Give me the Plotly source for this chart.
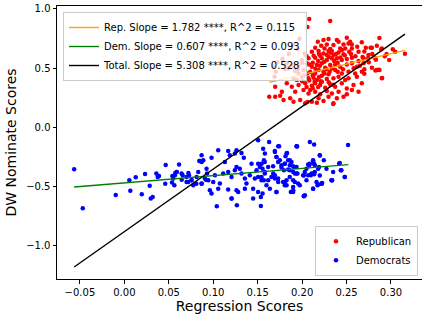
import plotly.graph_objects as go

# ---------------- data ----------------
rep_points = [
    (0.2080, 0.915), (0.2316, 0.898), (0.206, 0.847), (0.197, 0.749), (0.190, 0.700),
    (0.195, 0.660), (0.185, 0.620), (0.178, 0.580), (0.172, 0.550),
    (0.2241, 0.738), (0.2297, 0.746), (0.2177, 0.724), (0.2410, 0.724), (0.2503, 0.757),
    (0.2541, 0.724), (0.2672, 0.718), (0.2391, 0.738),
    (0.2215, 0.690), (0.2278, 0.701), (0.2353, 0.695), (0.2466, 0.701), (0.2522, 0.709),
    (0.2485, 0.667), (0.2560, 0.667), (0.2717, 0.673), (0.2785, 0.673), (0.2841, 0.690),
    (0.2897, 0.667), (0.2428, 0.667), (0.2316, 0.662), (0.2252, 0.667), (0.2147, 0.673),
    (0.2110, 0.639), (0.2185, 0.645), (0.2241, 0.625), (0.2297, 0.645), (0.2353, 0.611),
    (0.2410, 0.633), (0.2466, 0.617), (0.2530, 0.639), (0.2278, 0.611), (0.2203, 0.605),
    (0.2335, 0.645), (0.2447, 0.653), (0.2635, 0.639), (0.2747, 0.611), (0.3047, 0.639),
    (0.3157, 0.622), (0.2027, 0.625), (0.302, 0.659), (0.287, 0.754), (0.268, 0.594),
    (0.277, 0.673), (0.289, 0.659), (0.283, 0.572), (0.286, 0.487), (0.290, 0.416),
    (0.2825, 0.481), (0.270, 0.453),
    (0.2072, 0.583), (0.2147, 0.588), (0.2222, 0.583), (0.2278, 0.569), (0.2335, 0.583),
    (0.2391, 0.583), (0.2447, 0.569), (0.2503, 0.577), (0.2560, 0.588), (0.2635, 0.560),
    (0.2691, 0.583), (0.2740, 0.583), (0.2822, 0.583), (0.1997, 0.569),
    (0.1678, 0.512), (0.1828, 0.541), (0.1960, 0.526), (0.2053, 0.541), (0.2110, 0.512),
    (0.2166, 0.526), (0.2222, 0.541), (0.2260, 0.504), (0.2316, 0.526), (0.2372, 0.532),
    (0.2428, 0.512), (0.2503, 0.532), (0.2560, 0.541), (0.2616, 0.512), (0.2691, 0.541),
    (0.2841, 0.484), (0.2871, 0.484), (0.2785, 0.504),
    (0.1705, 0.470), (0.1810, 0.493), (0.1847, 0.498), (0.1922, 0.476), (0.2016, 0.484),
    (0.2091, 0.470), (0.2147, 0.456), (0.2185, 0.484), (0.2241, 0.470), (0.2297, 0.448),
    (0.2372, 0.484), (0.2447, 0.456), (0.2522, 0.470), (0.2597, 0.456), (0.2672, 0.470),
    (0.2335, 0.498),
    (0.1690, 0.428), (0.1903, 0.414), (0.1941, 0.400), (0.1997, 0.428), (0.2072, 0.414),
    (0.2128, 0.420), (0.2166, 0.400), (0.2222, 0.436), (0.2278, 0.408), (0.2353, 0.414),
    (0.2410, 0.428), (0.2522, 0.414), (0.2616, 0.428), (0.2897, 0.414), (0.2485, 0.400),
    (0.1697, 0.343), (0.1828, 0.372), (0.1884, 0.343), (0.1960, 0.358), (0.2035, 0.372),
    (0.2110, 0.352), (0.2147, 0.372), (0.2203, 0.358), (0.2260, 0.335), (0.2316, 0.363),
    (0.2372, 0.343), (0.2447, 0.372), (0.2503, 0.329), (0.2578, 0.358), (0.2672, 0.372),
    (0.2222, 0.386),
    (0.1772, 0.301), (0.1922, 0.301), (0.2016, 0.315), (0.2072, 0.287), (0.2147, 0.301),
    (0.2203, 0.279), (0.2278, 0.307), (0.2335, 0.287), (0.2410, 0.301), (0.2503, 0.279),
    (0.2560, 0.315), (0.2635, 0.301), (0.2091, 0.315),
    (0.1630, 0.259), (0.1697, 0.259), (0.1753, 0.267), (0.1791, 0.231), (0.1866, 0.245),
    (0.1903, 0.217), (0.1978, 0.231), (0.2035, 0.203), (0.2110, 0.217), (0.2185, 0.245),
    (0.2241, 0.222), (0.2297, 0.259), (0.2391, 0.245), (0.2466, 0.259), (0.2353, 0.203),
    (0.2166, 0.208), (0.235, 0.197), (0.206, 0.214),
    (0.2120, 0.545), (0.2180, 0.560), (0.2250, 0.555), (0.2300, 0.595), (0.2360, 0.560),
    (0.2200, 0.520), (0.2270, 0.490), (0.2150, 0.495), (0.2080, 0.530), (0.2400, 0.545),
    (0.2430, 0.590), (0.2380, 0.620), (0.2320, 0.630), (0.2190, 0.620), (0.2130, 0.605),
    (0.2050, 0.600), (0.2000, 0.545), (0.2060, 0.455), (0.2120, 0.440), (0.2190, 0.425),
    (0.2250, 0.455), (0.2310, 0.470), (0.2400, 0.470), (0.2460, 0.490), (0.2210, 0.390),
    (0.2140, 0.385), (0.2080, 0.395), (0.2020, 0.440), (0.1960, 0.455), (0.2300, 0.380),
    (0.2350, 0.360), (0.2180, 0.340), (0.2050, 0.340), (0.2120, 0.330), (0.2000, 0.390),
    (0.1950, 0.490), (0.1890, 0.520), (0.2550, 0.620), (0.2600, 0.600), (0.2480, 0.610),
    (0.2580, 0.500), (0.2650, 0.520), (0.2700, 0.490), (0.2750, 0.550), (0.2950, 0.620),
    (0.2980, 0.570), (0.2930, 0.600), (0.2790, 0.620), (0.2700, 0.640), (0.2620, 0.680),
    (0.2560, 0.700),
]

dem_points = [
    (-0.0565, -0.355), (-0.0468, -0.684), (-0.0097, -0.572), (0.0056, -0.448), (0.0067, -0.535),
    (0.0128, -0.422), (0.0196, -0.566), (0.0233, -0.394), (0.0285, -0.493), (0.0297, -0.602),
    (0.0319, -0.588), (0.036, -0.391), (0.0375, -0.420), (0.039, -0.411), (0.046, -0.476),
    (0.0465, -0.318), (0.054, -0.411), (0.0536, -0.467), (0.0562, -0.490), (0.0573, -0.386),
    (0.0589, -0.377), (0.0615, -0.313),
    (0.0843, -0.285), (0.087, -0.293), (0.070, -0.462), (0.0757, -0.448), (0.081, -0.476),
    (0.087, -0.476), (0.0918, -0.442), (0.093, -0.391), (0.072, -0.386), (0.0727, -0.405),
    (0.0656, -0.405), (0.0645, -0.442),
    (0.1505, -0.109), (0.1629, -0.124), (0.1741, -0.160), (0.1831, -0.216), (0.1813, -0.245),
    (0.1940, -0.160), (0.1693, -0.200), (0.1711, -0.250), (0.0869, -0.236), (0.0850, -0.284),
    (0.0888, -0.278), (0.0981, -0.256), (0.1056, -0.194), (0.1168, -0.200), (0.1187, -0.236),
    (0.1262, -0.194), (0.1243, -0.222), (0.1318, -0.216), (0.1344, -0.256), (0.1131, -0.292),
    (0.1262, -0.335), (0.1299, -0.349), (0.1431, -0.307), (0.1505, -0.307), (0.1524, -0.335),
    (0.1580, -0.292), (0.1487, -0.363), (0.1618, -0.335), (0.1674, -0.329), (0.1730, -0.292),
    (0.1768, -0.340), (0.1805, -0.307), (0.1861, -0.363), (0.1899, -0.329), (0.1947, -0.391),
    (0.0588, -0.377), (0.0569, -0.405), (0.0644, -0.391), (0.0550, -0.433), (0.0700, -0.419),
    (0.0719, -0.461), (0.0756, -0.447), (0.0813, -0.419), (0.0831, -0.377), (0.0906, -0.433),
    (0.0925, -0.349), (0.0944, -0.447), (0.1019, -0.405), (0.1075, -0.475), (0.1000, -0.461),
    (0.1112, -0.391), (0.1168, -0.377), (0.1206, -0.419), (0.1243, -0.363), (0.1318, -0.391),
    (0.1356, -0.433), (0.1374, -0.475), (0.1412, -0.405), (0.1468, -0.433), (0.1505, -0.419),
    (0.1543, -0.447), (0.1580, -0.391), (0.1618, -0.447), (0.1655, -0.419), (0.1693, -0.405),
    (0.1730, -0.433), (0.1786, -0.461), (0.1824, -0.447), (0.1861, -0.419), (0.1899, -0.447),
    (0.1955, -0.475),
    (0.0775, -0.489), (0.0869, -0.475), (0.0962, -0.532), (0.0981, -0.560), (0.1056, -0.518),
    (0.1168, -0.526), (0.1262, -0.532), (0.1281, -0.546), (0.1356, -0.518), (0.1449, -0.518),
    (0.1505, -0.546), (0.1599, -0.489), (0.1637, -0.518), (0.1711, -0.546), (0.1805, -0.489),
    (0.1899, -0.504), (0.1206, -0.602), (0.1449, -0.602), (0.1266, -0.659), (0.1536, -0.664),
    (0.104, -0.667), (0.1536, -0.589), (0.202, -0.580), (0.1207, -0.602),
    (0.2087, -0.124), (0.2135, -0.144), (0.2517, -0.149), (0.2199, -0.237), (0.2244, -0.279),
    (0.2124, -0.285), (0.2068, -0.313), (0.2143, -0.321), (0.2424, -0.301), (0.2442, -0.363),
    (0.2480, -0.420), (0.2338, -0.448), (0.2225, -0.470), (0.2180, -0.482), (0.2124, -0.518),
    (0.2019, -0.583), (0.1899, -0.546), (0.1937, -0.335), (0.1944, -0.161), (0.1843, -0.279),
    (0.1862, -0.321), (0.1937, -0.391), (0.2019, -0.406), (0.1918, -0.462), (0.1974, -0.490),
    (0.2049, -0.448), (0.2030, -0.377), (0.2124, -0.391), (0.2199, -0.406), (0.2274, -0.349),
    (0.2349, -0.377), (0.2049, -0.349),
    (0.1562, -0.180), (0.1581, -0.222), (0.1570, -0.279), (0.1544, -0.307), (0.1555, -0.349),
    (0.1581, -0.377), (0.1544, -0.419), (0.1570, -0.448), (0.1555, -0.560),
    (0.1694, -0.208), (0.1731, -0.160), (0.1712, -0.250), (0.1750, -0.279), (0.1825, -0.222),
    (0.1862, -0.279), (0.1881, -0.293), (0.1806, -0.307), (0.1768, -0.321), (0.1795, -0.363),
    (0.1843, -0.357), (0.1900, -0.377), (0.1918, -0.391), (0.1675, -0.391), (0.1694, -0.433),
    (0.1731, -0.462), (0.1806, -0.462), (0.1825, -0.490), (0.1712, -0.546), (0.1900, -0.532),
    (0.1937, -0.160), (0.2012, -0.405), (0.2068, -0.405), (0.2105, -0.391), (0.2143, -0.377),
    (0.2180, -0.349), (0.2199, -0.236), (0.2124, -0.279), (0.2135, -0.307), (0.2087, -0.307),
    (0.2218, -0.476), (0.2162, -0.462), (0.2124, -0.518), (0.2330, -0.448), (0.2031, -0.574),
    (0.2416, -0.307), (0.2480, -0.420), (0.2435, -0.363), (0.2334, -0.448), (0.2220, -0.476),
    (0.2173, -0.490), (0.2098, -0.405), (0.2135, -0.397), (0.2079, -0.321), (0.2190, -0.335),
    (0.1910, -0.335), (0.1873, -0.546),
]

# fitted regression lines (endpoints)
rep_fit_x = [0.163, 0.3157]
rep_fit_y = [0.380, 0.650]
dem_fit_x = [-0.0565, 0.252]
dem_fit_y = [-0.504, -0.315]
tot_fit_x = [-0.0565, 0.3157]
tot_fit_y = [-1.180, 0.788]

rep_label = "Rep. Slope = 1.782 ****, R^2 = 0.115"
dem_label = "Dem. Slope = 0.607 ****, R^2 = 0.093"
tot_label = "Total. Slope = 5.308 ****, R^2 = 0.528"

x_ticks = [-0.05, 0.00, 0.05, 0.10, 0.15, 0.20, 0.25, 0.30]
y_ticks = [-1.0, -0.5, 0.0, 0.5, 1.0]

# ---------------- figure ----------------
FONT = "DejaVu Sans"
fig = go.Figure()

fig.add_trace(go.Scatter(
    x=[p[0] for p in rep_points], y=[p[1] for p in rep_points],
    mode="markers", name="Republican", legend="legend2",
    marker=dict(color="#ff0000", size=4.5, line=dict(width=0)),
))
fig.add_trace(go.Scatter(
    x=[p[0] for p in dem_points], y=[p[1] for p in dem_points],
    mode="markers", name="Democrats", legend="legend2",
    marker=dict(color="#0000ff", size=4.5, line=dict(width=0)),
))
fig.add_trace(go.Scatter(x=rep_fit_x, y=rep_fit_y, mode="lines", name=rep_label,
                         line=dict(color="orange", width=1.4), legend="legend"))
fig.add_trace(go.Scatter(x=dem_fit_x, y=dem_fit_y, mode="lines", name=dem_label,
                         line=dict(color="green", width=1.4), legend="legend"))
fig.add_trace(go.Scatter(x=tot_fit_x, y=tot_fit_y, mode="lines", name=tot_label,
                         line=dict(color="black", width=1.4), legend="legend"))

axis_common = dict(
    showline=True, linecolor="black", linewidth=1,
    ticks="outside", ticklen=3.5, tickwidth=1, tickcolor="black",
    showgrid=False, zeroline=False,
    tickfont=dict(family=FONT, size=10, color="black"),
)

fig.update_layout(
    width=422, height=320,
    margin=dict(l=57, r=0, t=6, b=41),
    paper_bgcolor="white", plot_bgcolor="white",
    font=dict(family=FONT, color="black"),
    xaxis=dict(range=[-0.0758, 0.3349], tickvals=x_ticks, tickformat=".2f",
               mirror=True,
               title=dict(text="Regression Scores", font=dict(family=FONT, size=14), standoff=4),
               **axis_common),
    yaxis=dict(range=[-1.2814, 1.0253], tickvals=y_ticks, tickformat=".1f",
               title=dict(text="DW Nominate Scores", font=dict(family=FONT, size=14), standoff=6),
               **axis_common),
    legend=dict(x=0.0164, y=0.978, xanchor="left", yanchor="top",
                bgcolor="rgba(255,255,255,0.8)", bordercolor="#cccccc", borderwidth=1,
                font=dict(family=FONT, size=10), tracegroupgap=0, itemwidth=30),
    legend2=dict(x=0.989, y=0.012, xanchor="right", yanchor="bottom",
                 bgcolor="rgba(255,255,255,0.8)", bordercolor="#cccccc", borderwidth=1,
                 font=dict(family=FONT, size=10), itemwidth=30),
    showlegend=True,
)

fig.write_html("out.html")
